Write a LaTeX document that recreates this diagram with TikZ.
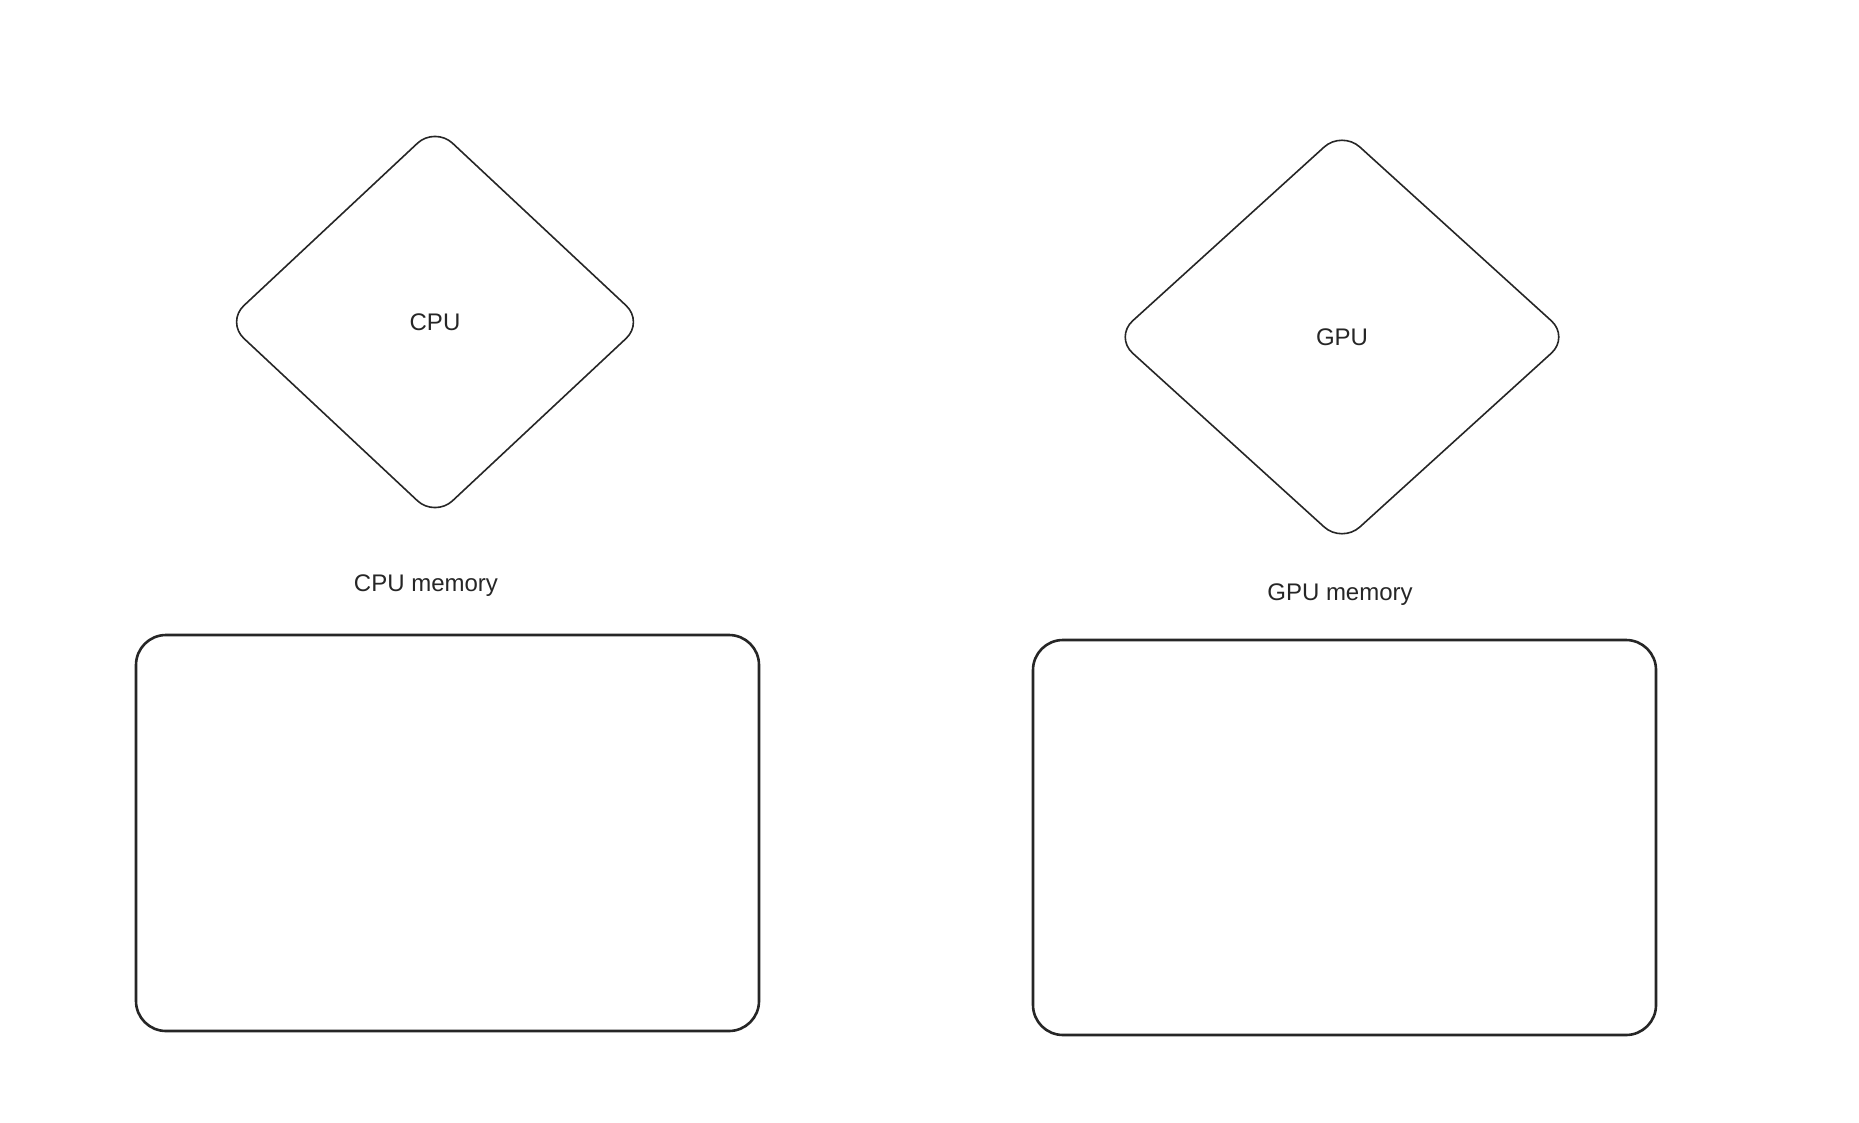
\documentclass[tikz,border=0pt]{standalone}
\usepackage{fontspec}
\setmainfont{Liberation Sans}
\usetikzlibrary{shapes, shapes.geometric}
\usetikzlibrary{positioning}

\begin{document}
\begin{tikzpicture}[x=1pt, y=-1pt, every node/.style={font=\fontsize{24}{28}\selectfont, text=black!85}]
\tikzset{chip/.style={diamond, draw=black!85, line width=1.6pt, rounded corners=24pt, inner sep=0pt},
  membox/.style={rectangle, draw=black!85, line width=2.6pt, rounded corners=30pt, inner sep=0pt}}

\useasboundingbox (0,0) rectangle (1859,1123);

\node[chip, minimum width=418pt, minimum height=391pt] (cpu) at (435,322) {CPU};
\node[chip, minimum width=455pt, minimum height=413pt] (gpu) at (1342,337) {GPU};

\node[membox, minimum width=623pt, minimum height=396pt] (cpumem) at (447.5,833) {};
\node[membox, minimum width=623pt, minimum height=395pt] (gpumem) at (1344.5,837.5) {};

\node (cpulabel) at (426,586) {CPU memory};
\node (gpulabel) at (1340,595) {GPU memory};

\end{tikzpicture}
\end{document}
